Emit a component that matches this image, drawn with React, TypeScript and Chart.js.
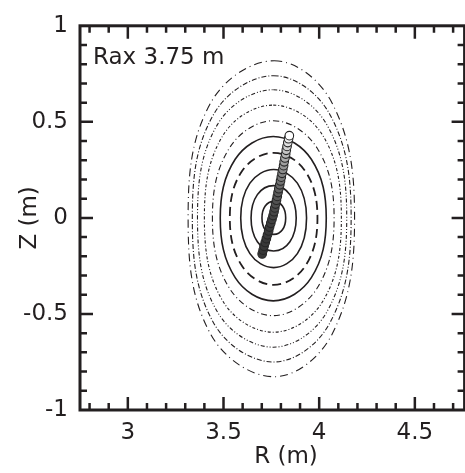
import React, { useEffect, useRef } from 'react';
import { Chart, registerables } from 'chart.js';

Chart.register(...registerables);

const INK = '#231f20';
const FONT = '"DejaVu Sans", "Liberation Sans", sans-serif';

// Axis ranges and ticks
const xMin = 2.75;
const xMax = 4.76;
const yMin = -1;
const yMax = 1;
const tickStep = 0.1;
const xMajorTicks = [3, 3.5, 4, 4.5];
const yMajorTicks = [-1, -0.5, 0, 0.5, 1];
const xTitle = 'R (m)';
const yTitle = 'Z (m)';
const annotation = 'Rax 3.75 m';

// Flux surfaces, 8 points each: top, upper-right, right, lower-right, bottom, lower-left, left, upper-left
const surfaceR1 = [3.763, 3.808, 3.825, 3.808, 3.763, 3.718, 3.701, 3.718];
const surfaceZ1 = [0.086, 0.062, 0, -0.062, -0.086, -0.062, 0, 0.062];
const surfaceR2 = [3.762, 3.847, 3.88, 3.847, 3.762, 3.677, 3.644, 3.677];
const surfaceZ2 = [0.168, 0.121, 0, -0.124, -0.172, -0.124, 0, 0.121];
const surfaceR3 = [3.762, 3.886, 3.934, 3.886, 3.762, 3.638, 3.59, 3.638];
const surfaceZ3 = [0.252, 0.181, 0, -0.186, -0.259, -0.186, 0, 0.181];
const surfaceR4 = [3.762, 3.927, 3.991, 3.927, 3.762, 3.597, 3.533, 3.597];
const surfaceZ4 = [0.339, 0.244, 0, -0.251, -0.349, -0.251, 0, 0.244];
const surfaceR5 = [3.76, 3.959, 4.037, 3.959, 3.76, 3.561, 3.483, 3.561];
const surfaceZ5 = [0.424, 0.305, 0, -0.311, -0.432, -0.311, 0, 0.305];
const surfaceR6 = [3.76, 3.989, 4.078, 3.989, 3.76, 3.531, 3.442, 3.531];
const surfaceZ6 = [0.506, 0.364, 0, -0.366, -0.509, -0.366, 0, 0.364];
const surfaceR7 = [3.76, 4.019, 4.116, 4.019, 3.76, 3.497, 3.4, 3.497];
const surfaceZ7 = [0.587, 0.429, 0, -0.434, -0.595, -0.434, 0, 0.429];
const surfaceR8 = [3.76, 4.039, 4.144, 4.039, 3.76, 3.469, 3.364, 3.469];
const surfaceZ8 = [0.667, 0.487, 0, -0.491, -0.673, -0.491, 0, 0.487];
const surfaceR9 = [3.762, 4.055, 4.167, 4.055, 3.762, 3.449, 3.337, 3.449];
const surfaceZ9 = [0.74, 0.54, 0, -0.548, -0.75, -0.548, 0, 0.54];
const surfaceR10 = [3.765, 4.068, 4.185, 4.068, 3.765, 3.432, 3.315, 3.432];
const surfaceZ10 = [0.818, 0.597, 0, -0.604, -0.827, -0.604, 0, 0.597];

// Orbit / marker path (bottom to top)
const pathR = [
  3.702, 3.707, 3.712, 3.718, 3.724, 3.73, 3.736, 3.741, 3.747, 3.753, 3.759,
  3.764, 3.768, 3.772, 3.777, 3.781, 3.785, 3.789, 3.794, 3.798, 3.802, 3.806,
  3.81, 3.814, 3.817, 3.821, 3.825, 3.828, 3.832, 3.836, 3.84, 3.844,
];
const pathZ = [
  -0.188, -0.168, -0.148, -0.128, -0.108, -0.088, -0.068, -0.048, -0.028, -0.008, 0.012,
  0.032, 0.052, 0.072, 0.092, 0.112, 0.132, 0.152, 0.172, 0.192, 0.212, 0.232,
  0.252, 0.272, 0.292, 0.312, 0.332, 0.352, 0.372, 0.392, 0.412, 0.428,
];

// Styles for each surface
const surfaceDash: number[][] = [[], [], [], [9, 5], [], [6, 3, 1, 3], [3, 2, 1, 2], [4, 2, 1, 2, 1, 2], [5, 2, 1, 2], [8, 4, 1, 4]];
const surfaceWidth = [1.6, 1.6, 1.6, 1.8, 1.6, 1.1, 1.1, 1.1, 1.1, 1.1];

const surfacesR = [surfaceR1, surfaceR2, surfaceR3, surfaceR4, surfaceR5, surfaceR6, surfaceR7, surfaceR8, surfaceR9, surfaceR10];
const surfacesZ = [surfaceZ1, surfaceZ2, surfaceZ3, surfaceZ4, surfaceZ5, surfaceZ6, surfaceZ7, surfaceZ8, surfaceZ9, surfaceZ10];

// wrap a closed curve so the spline is smooth at the seam (first & last segments are hidden)
function loopData(R: number[], Z: number[]) {
  const n = R.length;
  const idx = [n - 1];
  for (let i = 0; i < n; i++) idx.push(i);
  idx.push(0, 1);
  return idx.map((i) => ({ x: R[i], y: Z[i] }));
}

const isMajor = (v: number, majors: number[]) => majors.some((m) => Math.abs(m - v) < 1e-6);

const framePlugin = {
  id: 'frameTicks',
  afterDatasetsDraw(chart: any) {
    const { ctx, chartArea: a, scales } = chart;
    const xs = scales.x;
    const ys = scales.y;
    ctx.save();
    ctx.strokeStyle = INK;
    ctx.lineCap = 'butt';
    ctx.lineWidth = 2.5;
    ctx.beginPath();
    for (const t of xs.ticks) {
      const v = t.value;
      if (v <= xs.min + 1e-9 || v >= xs.max - 1e-9) continue;
      const len = isMajor(v, xMajorTicks) ? 13 : 7;
      const px = xs.getPixelForValue(v);
      ctx.moveTo(px, a.bottom);
      ctx.lineTo(px, a.bottom - len);
      ctx.moveTo(px, a.top);
      ctx.lineTo(px, a.top + len);
    }
    for (const t of ys.ticks) {
      const v = t.value;
      if (v <= ys.min + 1e-9 || v >= ys.max - 1e-9) continue;
      const len = isMajor(v, yMajorTicks) ? 13 : 7;
      const py = ys.getPixelForValue(v);
      ctx.moveTo(a.left, py);
      ctx.lineTo(a.left + len, py);
      ctx.moveTo(a.right, py);
      ctx.lineTo(a.right - len, py);
    }
    ctx.stroke();
    ctx.lineWidth = 3;
    ctx.strokeRect(a.left, a.top, a.right - a.left, a.bottom - a.top);
    ctx.fillStyle = INK;
    ctx.font = `23px ${FONT}`;
    ctx.textAlign = 'left';
    ctx.textBaseline = 'alphabetic';
    ctx.fillText(annotation, a.left + 13, a.top + 38);
    ctx.textAlign = 'center';
    ctx.textBaseline = 'middle';
    ctx.fillText(xTitle, 286, 457);
    ctx.restore();
  },
};

export default function App() {
  const ref = useRef<HTMLCanvasElement | null>(null);

  useEffect(() => {
    if (!ref.current) return;
    const pathData = pathR.map((r, i) => ({ x: r, y: pathZ[i] }));
    const nPath = pathData.length;

    const surfaceSets = surfacesR.map((R, k) => {
      const data = loopData(R, surfacesZ[k]);
      const last = data.length - 1;
      return {
        type: 'line' as const,
        data,
        showLine: true,
        borderColor: INK,
        borderWidth: surfaceWidth[k],
        borderDash: surfaceDash[k],
        pointRadius: 0,
        pointHoverRadius: 0,
        tension: 0.38,
        fill: false,
        segment: {
          borderColor: (c: any) =>
            c.p0DataIndex === 0 || c.p1DataIndex === last ? 'rgba(0,0,0,0)' : undefined,
        },
      };
    });

    const chart = new Chart(ref.current, {
      type: 'scatter',
      data: {
        datasets: [
          {
            data: pathData,
            showLine: false,
            pointRadius: 4.3,
            pointBorderWidth: 1.1,
            pointBorderColor: '#262626',
            pointBackgroundColor: (c: any) => {
              const t = c.dataIndex / (nPath - 1);
              const g = Math.round(55 + 200 * Math.pow(t, 2.5));
              return `rgb(${g},${g},${g})`;
            },
          } as any,
          ...(surfaceSets as any[]),
        ],
      },
      options: {
        responsive: false,
        animation: false,
        devicePixelRatio: 1,
        layout: { padding: { top: 25, right: 2, bottom: 0, left: 0 } },
        plugins: {
          legend: { display: false },
          tooltip: { enabled: false },
        },
        scales: {
          x: {
            type: 'linear',
            min: xMin,
            max: xMax,
            grid: { display: false, drawTicks: false },
            border: { display: false },
            afterFit: (s: any) => {
              s.height = 63;
            },
            ticks: {
              stepSize: tickStep,
              includeBounds: false,
              autoSkip: false,
              maxRotation: 0,
              minRotation: 0,
              padding: 9,
              color: INK,
              font: { family: FONT, size: 23 },
              callback: (v: any) => (isMajor(Number(v), xMajorTicks) ? String(Math.round(Number(v) * 2) / 2) : ''),
            },
          },
          y: {
            type: 'linear',
            min: yMin,
            max: yMax,
            grid: { display: false, drawTicks: false },
            border: { display: false },
            afterFit: (s: any) => {
              s.width = 80;
            },
            title: {
              display: true,
              text: yTitle,
              color: INK,
              font: { family: FONT, size: 23 },
              padding: { top: 16, bottom: 0 },
            },
            ticks: {
              stepSize: tickStep,
              autoSkip: false,
              padding: 12,
              color: INK,
              font: { family: FONT, size: 23 },
              callback: (v: any) => (isMajor(Number(v), yMajorTicks) ? String(Math.round(Number(v) * 2) / 2) : ''),
            },
          },
        },
      },
      plugins: [framePlugin],
    } as any);

    return () => chart.destroy();
  }, []);

  return (
    <div style={{ position: 'absolute', left: 0, top: 0, width: 465, height: 473, overflow: 'hidden', background: '#fff' }}>
      <canvas ref={ref} width={470} height={473} style={{ display: 'block' }} />
    </div>
  );
}
